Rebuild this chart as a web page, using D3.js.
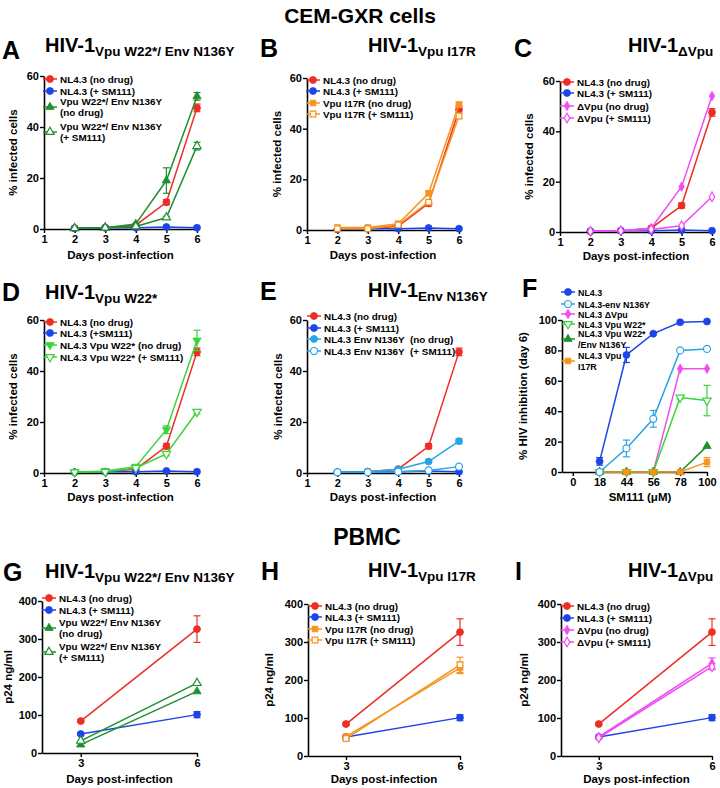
<!DOCTYPE html>
<html><head><meta charset="utf-8">
<script src="https://cdn.jsdelivr.net/npm/d3@7"></script>
<style>
body{margin:0;background:#fff}
svg text{font-family:"Liberation Sans",Arial,Helvetica,sans-serif;font-weight:bold;fill:#000;white-space:pre}
</style></head>
<body><svg id="c" width="720" height="788"></svg>
<script>
// ---------------- DATA ----------------
const daysCEM = [2, 3, 4, 5, 6];
const daysCEMTicks = [1, 2, 3, 4, 5, 6];
const pctTicks = [0, 20, 40, 60];

const cemNL43NoDrug    = [0.3, 0.5, 1.5, 10.5, 47.5];
const cemNL43NoDrugErr = [0, 0, 0, 1, 1.5];
const cemNL43SM111     = [0.3, 0.5, 0.5, 0.8, 0.5];

const cemW22EnvNoDrug    = [0.3, 0.5, 2, 19, 52];
const cemW22EnvNoDrugErr = [0, 0, 0, 5, 1.5];
const cemW22EnvSM111     = [0.3, 0.5, 1, 4.5, 32.5];
const cemW22EnvSM111Err  = [0, 0, 0, 0.5, 1.5];

const cemI17RNoDrug    = [1, 1, 2.5, 14.5, 49.5];
const cemI17RNoDrugErr = [0, 0, 0, 1, 1];
const cemI17RSM111     = [0.5, 0.5, 2, 11, 45];
const cemI17RSM111Err  = [0, 0, 0, 1, 1];

const cemDVpuNoDrug = [0.3, 0.5, 1.5, 18, 54];
const cemDVpuSM111  = [0.3, 0.5, 1, 2.5, 14];

const cemW22NoDrug    = [0.3, 0.8, 2.5, 17, 52];
const cemW22NoDrugErr = [0, 0, 0.5, 1.5, 4];
const cemW22SM111     = [0.3, 0.5, 2, 7.5, 24];
const cemW22SM111Err  = [0, 0, 0, 0.8, 0.8];

const cemEnvNoDrug    = [0.3, 0.5, 1.5, 4.5, 12.5];
const cemEnvNoDrugErr = [0, 0, 0, 0.5, 1];
const cemEnvSM111     = [0.3, 0.3, 0.5, 1, 2.5];

// panel F: % inhibition at day 6 vs SM111 concentration
const sm111Conc = ["0", "18", "44", "56", "78", "100"];
const sm111Idx  = [0, 1, 2, 3, 4, 5];
const inhibTicks = [0, 20, 40, 60, 80, 100];
const inhNL43     = [null, 7, 77, 91, 98.5, 99];
const inhNL43Err  = [0, 2.5, 5, 0, 0, 0];
const inhEnv      = [null, 0, 15.5, 35, 80, 81];
const inhEnvErr   = [0, 0, 5.5, 5.5, 0, 0];
const inhDVpu     = [null, 0, 0, 0, 68, 68];
const inhW22      = [null, 0, 0, 0, 49, 47];
const inhW22Err   = [0, 0, 0, 0, 1, 10];
const inhW22Env   = [null, 0, 0, 0, 0, 17];
const inhI17R     = [null, 0, 0, 0, 0, 6.5];
const inhI17RErr  = [0, 0, 0, 0, 0, 3];

// PBMC p24 (ng/ml)
const daysPBMC = [3, 6];
const p24Ticks = [0, 100, 200, 300, 400];
const pbNL43NoDrug    = [84, 326];
const pbNL43NoDrugErr = [3, 35];
const pbNL43SM111     = [50, 101];
const pbNL43SM111Err  = [3, 8];
const pbW22EnvNoDrug  = [22, 162];
const pbW22EnvSM111   = [32, 184];
const pbI17RNoDrug    = [51, 232];
const pbI17RNoDrugErr = [4, 15];
const pbI17RSM111     = [46, 240];
const pbI17RSM111Err  = [4, 20];
const pbDVpuNoDrug    = [50, 244];
const pbDVpuNoDrugErr = [4, 14];
const pbDVpuSM111     = [48, 235];
const pbDVpuSM111Err  = [4, 8];

// ---------------- STYLE ----------------
const COL = {red:"#ee2d24", blue:"#1d44e8", dkgreen:"#1f8f2f", ltgreen:"#3ad43a",
             orange:"#f7941d", magenta:"#f04cf0", ltblue:"#27a4e4"};

const svg = d3.select("#c");

const symTypes = {circle:d3.symbolCircle, tri:d3.symbolTriangle, tridown:d3.symbolTriangle,
                  square:d3.symbolSquare, diamond:d3.symbolDiamond};
const symSize = {circle:38, tri:30, tridown:30, square:32, diamond:26};

function marker(g, s, cx, cy){
  g.append("path")
    .attr("d", d3.symbol().type(symTypes[s.shape]).size(symSize[s.shape])())
    .attr("transform", `translate(${cx},${cy})` + (s.shape==="tridown" ? " rotate(180)" : ""))
    .attr("fill", s.filled ? s.color : "#fff")
    .attr("stroke", s.color).attr("stroke-width", s.filled ? 0.8 : 1.2);
}

function S(v, e, color, shape, filled, label){ return {v, e, color, shape, filled, label}; }

const nlNo  = S(cemNL43NoDrug, cemNL43NoDrugErr, COL.red, "circle", true, ["NL4.3 (no drug)"]);
const nlSM  = S(cemNL43SM111, null, COL.blue, "circle", true, ["NL4.3 (+ SM111)"]);

const panels = [
 {letter:"A", lp:[2,59], tp:[45,52], sub:"Vpu W22*/ Env N136Y",
  xD:[1,6], xR:[44,197], yD:[0,60], yR:[229,76], xT:daysCEMTicks, yT:pctTicks, xV:daysCEM,
  xl:"Days post-infection", xlY:259, yl:"% infected cells", ylX:17,
  lg:{mx:50, ys:[79,91,107,132]},
  series:[nlNo, nlSM,
   S(cemW22EnvNoDrug, cemW22EnvNoDrugErr, COL.dkgreen, "tri", true, ["Vpu W22*/ Env N136Y","(no drug)"]),
   S(cemW22EnvSM111, cemW22EnvSM111Err, COL.dkgreen, "tri", false, ["Vpu W22*/ Env N136Y","(+ SM111)"])]},
 {letter:"B", lp:[260,57], tp:[368,52], sub:"Vpu I17R",
  xD:[1,6], xR:[307,459], yD:[0,60], yR:[230,78], xT:daysCEMTicks, yT:pctTicks, xV:daysCEM,
  xl:"Days post-infection", xlY:259, yl:"% infected cells", ylX:281,
  lg:{mx:313, ys:[80,91,103,114]},
  series:[nlNo, nlSM,
   S(cemI17RNoDrug, cemI17RNoDrugErr, COL.orange, "square", true, ["Vpu I17R (no drug)"]),
   S(cemI17RSM111, cemI17RSM111Err, COL.orange, "square", false, ["Vpu I17R (+ SM111)"])]},
 {letter:"C", lp:[514,57], tp:[628,52], sub:"ΔVpu",
  xD:[1,6], xR:[560,712], yD:[0,60], yR:[232,81], xT:daysCEMTicks, yT:pctTicks, xV:daysCEM,
  xl:"Days post-infection", xlY:260, yl:"% infected cells", ylX:533,
  lg:{mx:567, ys:[82,93,106,118]},
  series:[nlNo, nlSM,
   S(cemDVpuNoDrug, null, COL.magenta, "diamond", true, ["ΔVpu (no drug)"]),
   S(cemDVpuSM111, null, COL.magenta, "diamond", false, ["ΔVpu (+ SM111)"])]},
 {letter:"D", lp:[2,301], tp:[45,299], sub:"Vpu W22*",
  xD:[1,6], xR:[44,197], yD:[0,60], yR:[473,320], xT:daysCEMTicks, yT:pctTicks, xV:daysCEM,
  xl:"Days post-infection", xlY:501, yl:"% infected cells", ylX:17,
  lg:{mx:50, ys:[322,333,345,357]},
  series:[nlNo, S(cemNL43SM111, null, COL.blue, "circle", true, ["NL4.3 (+SM111)"]),
   S(cemW22NoDrug, cemW22NoDrugErr, COL.ltgreen, "tridown", true, ["NL4.3 Vpu W22* (no drug)"]),
   S(cemW22SM111, cemW22SM111Err, COL.ltgreen, "tridown", false, ["NL4.3 Vpu W22* (+ SM111)"])]},
 {letter:"E", lp:[260,300], tp:[368,297], sub:"Env N136Y",
  xD:[1,6], xR:[307,459], yD:[0,60], yR:[473,320], xT:daysCEMTicks, yT:pctTicks, xV:daysCEM,
  xl:"Days post-infection", xlY:501, yl:"% infected cells", ylX:282,
  lg:{mx:314, ys:[316,328,339,351]},
  series:[nlNo, nlSM,
   S(cemEnvNoDrug, cemEnvNoDrugErr, COL.ltblue, "circle", true, ["NL4.3 Env N136Y  (no drug)"]),
   S(cemEnvSM111, null, COL.ltblue, "circle", false, ["NL4.3 Env N136Y  (+ SM111)"])]},
 {letter:"F", lp:[522,297], tp:null,
  xD:[-0.4,5], xR:[562,707], yD:[0,100], yR:[472,320], xT:sm111Idx, xFmt:i=>sm111Conc[i], yT:inhibTicks, xV:sm111Idx,
  xl:"SM111 (μM)", xlY:501, xlX:640, yl:"% HIV inhibition (day 6)", ylX:527,
  lg:{mx:568, ys:[292,304,314,324,339,361], fs:8.9},
  series:[
   S(inhDVpu, null, COL.magenta, "diamond", true, ["NL4.3 ΔVpu"]),
   S(inhW22, inhW22Err, COL.ltgreen, "tridown", false, ["NL4.3 Vpu W22*"]),
   S(inhW22Env, null, COL.dkgreen, "tri", true, ["NL4.3 Vpu W22*","/Env N136Y"]),
   S(inhI17R, inhI17RErr, COL.orange, "square", true, ["NL4.3 Vpu","I17R"]),
   S(inhEnv, inhEnvErr, COL.ltblue, "circle", false, ["NL4.3-env N136Y"]),
   S(inhNL43, inhNL43Err, COL.blue, "circle", true, ["NL4.3"])],
  lgOrder:[5,4,0,1,2,3]},
 {letter:"G", lp:[3,581], tp:[45,578], sub:"Vpu W22*/ Env N136Y",
  xD:[2,6], xR:[42,197], yD:[0,400], yR:[753,601], xT:daysPBMC, yT:p24Ticks, xV:daysPBMC,
  xl:"Days post-infection", xlY:783, yl:"p24 ng/ml", ylX:12,
  lg:{mx:49, ys:[598,610,628,652]},
  series:[
   S(pbNL43NoDrug, pbNL43NoDrugErr, COL.red, "circle", true, ["NL4.3 (no drug)"]),
   S(pbNL43SM111, pbNL43SM111Err, COL.blue, "circle", true, ["NL4.3 (+ SM111)"]),
   S(pbW22EnvNoDrug, null, COL.dkgreen, "tri", true, ["Vpu W22*/ Env N136Y","(no drug)"]),
   S(pbW22EnvSM111, null, COL.dkgreen, "tri", false, ["Vpu W22*/ Env N136Y","(+ SM111)"])]},
 {letter:"H", lp:[261,580], tp:[368,577], sub:"Vpu I17R",
  xD:[2,6], xR:[308,460], yD:[0,400], yR:[756,604], xT:daysPBMC, yT:p24Ticks, xV:daysPBMC,
  xl:"Days post-infection", xlY:783, yl:"p24 ng/ml", ylX:273,
  lg:{mx:315, ys:[606,617,629,640]},
  series:[
   S(pbNL43NoDrug, pbNL43NoDrugErr, COL.red, "circle", true, ["NL4.3 (no drug)"]),
   S(pbNL43SM111, pbNL43SM111Err, COL.blue, "circle", true, ["NL4.3 (+ SM111)"]),
   S(pbI17RNoDrug, pbI17RNoDrugErr, COL.orange, "square", true, ["Vpu I17R (no drug)"]),
   S(pbI17RSM111, pbI17RSM111Err, COL.orange, "square", false, ["Vpu I17R (+ SM111)"])]},
 {letter:"I", lp:[515,580], tp:[628,577], sub:"ΔVpu",
  xD:[2,6], xR:[561,712], yD:[0,400], yR:[756,604], xT:daysPBMC, yT:p24Ticks, xV:daysPBMC,
  xl:"Days post-infection", xlY:783, yl:"p24 ng/ml", ylX:528,
  lg:{mx:567, ys:[606,618,630,642]},
  series:[
   S(pbNL43NoDrug, pbNL43NoDrugErr, COL.red, "circle", true, ["NL4.3 (no drug)"]),
   S(pbNL43SM111, pbNL43SM111Err, COL.blue, "circle", true, ["NL4.3 (+ SM111)"]),
   S(pbDVpuNoDrug, pbDVpuNoDrugErr, COL.magenta, "diamond", true, ["ΔVpu (no drug)"]),
   S(pbDVpuSM111, pbDVpuSM111Err, COL.magenta, "diamond", false, ["ΔVpu (+ SM111)"])]}
];

// ---------------- DRAW ----------------
svg.append("text").attr("x",360).attr("y",23).attr("text-anchor","middle").attr("font-size",21).text("CEM-GXR cells");
svg.append("text").attr("x",367).attr("y",545).attr("text-anchor","middle").attr("font-size",23).text("PBMC");

function styleAxis(g){
  g.attr("font-family",null).attr("font-size",null);
  g.selectAll(".domain").attr("stroke","#000").attr("stroke-width",1.6);
  g.selectAll(".tick line").attr("stroke","#000").attr("stroke-width",1.4);
  g.selectAll(".tick text").attr("font-size",11);
}

panels.forEach(p => {
  const x = d3.scaleLinear().domain(p.xD).range(p.xR);
  const y = d3.scaleLinear().domain(p.yD).range(p.yR);
  const g = svg.append("g");

  // letter and title
  g.append("text").attr("x",p.lp[0]).attr("y",p.lp[1]).attr("font-size",25).text(p.letter);
  if (p.tp){
    const t = g.append("text").attr("x",p.tp[0]).attr("y",p.tp[1]);
    t.append("tspan").attr("font-size",20).text("HIV-1");
    t.append("tspan").attr("font-size",13.5).attr("dy",4).text(p.sub);
  }

  // axes
  const ax = g.append("g").attr("transform",`translate(0,${p.yR[0]})`)
    .call(d3.axisBottom(x).tickValues(p.xT).tickSize(4).tickSizeOuter(0).tickPadding(2)
      .tickFormat(p.xFmt || d3.format("d")));
  styleAxis(ax);
  const ay = g.append("g").attr("transform",`translate(${p.xR[0]},0)`)
    .call(d3.axisLeft(y).tickValues(p.yT).tickSize(4).tickSizeOuter(0).tickPadding(1));
  styleAxis(ay);

  g.append("text").attr("x", p.xlX || (p.xR[0]+p.xR[1])/2).attr("y",p.xlY)
    .attr("text-anchor","middle").attr("font-size",11.5).text(p.xl);
  const yc = (p.yR[0]+p.yR[1])/2;
  g.append("text").attr("transform",`translate(${p.ylX},${yc}) rotate(-90)`)
    .attr("text-anchor","middle").attr("font-size",11.5).text(p.yl);

  // series
  p.series.forEach(s => {
    const pts = p.xV.map((xv,i)=>({x:xv, v:s.v[i], e:s.e ? s.e[i] : 0})).filter(d=>d.v!=null);
    g.append("path").datum(pts)
      .attr("d", d3.line().x(d=>x(d.x)).y(d=>y(d.v)))
      .attr("fill","none").attr("stroke",s.color).attr("stroke-width",1.5);
    pts.filter(d=>d.e>0).forEach(d=>{
      const cx = x(d.x), y1 = y(d.v+d.e), y2 = y(Math.max(0,d.v-d.e));
      g.append("line").attr("x1",cx).attr("x2",cx).attr("y1",y1).attr("y2",y2)
        .attr("stroke",s.color).attr("stroke-width",1.2);
      [y1,y2].forEach(yy => g.append("line").attr("x1",cx-3.5).attr("x2",cx+3.5)
        .attr("y1",yy).attr("y2",yy).attr("stroke",s.color).attr("stroke-width",1.2));
    });
    pts.forEach(d => marker(g, s, x(d.x), y(d.v)));
  });

  // legend
  const order = p.lgOrder || p.series.map((_,i)=>i);
  const fs = p.lg.fs || 9.9;
  order.forEach((si, k) => {
    const s = p.series[si], my = p.lg.ys[k], mx = p.lg.mx;
    g.append("line").attr("x1",mx-7).attr("x2",mx+7).attr("y1",my).attr("y2",my)
      .attr("stroke",s.color).attr("stroke-width",1.5);
    marker(g, s, mx, my);
    const n = s.label.length;
    s.label.forEach((ln, j) => {
      const off = n === 1 ? 0 : (j === 0 ? -5.2 : 5.2);
      g.append("text").attr("x",mx+10).attr("y",my+off+3.5).attr("font-size",fs).text(ln);
    });
  });
});
</script></body></html>
